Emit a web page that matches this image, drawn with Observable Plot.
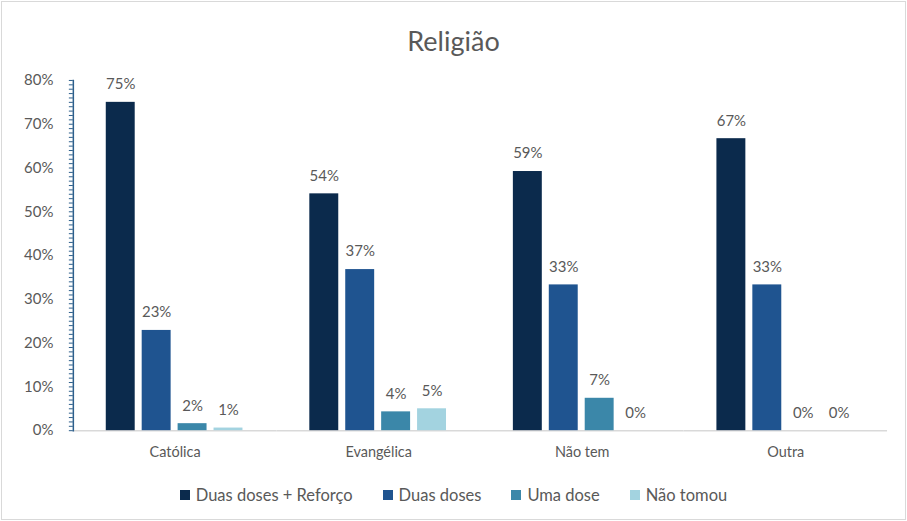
<!DOCTYPE html>
<html><head><meta charset="utf-8">
<script src="https://cdn.jsdelivr.net/npm/d3@7"></script>
<script src="https://cdn.jsdelivr.net/npm/@observablehq/plot@0.6"></script>
<style>
body{margin:0;background:#fff;font-family:Lato,"Open Sans",sans-serif;}
#wrap{position:relative;width:903px;height:517px;border:1px solid #d9d9d9;margin:1px;background:#fff;overflow:hidden;}
#title{position:absolute;top:22px;left:0;width:100%;text-align:center;font-size:27px;color:#595959;}
#chart{position:absolute;top:59px;left:-2px;}
#legend{position:absolute;top:483px;left:0;width:100%;display:flex;justify-content:center;gap:30px;font-size:16.5px;color:#595959;}
#legend span.item{display:flex;align-items:center;gap:6px;}
#legend span.sw{display:inline-block;width:10px;height:10px;}
</style></head>
<body>
<div id="wrap">
  <div id="title">Religião</div>
  <div id="chart"></div>
  <div id="legend"></div>
</div>
<script>
const categories = ["Católica", "Evangélica", "Não tem", "Outra"];
const series = ["Duas doses + Reforço", "Duas doses", "Uma dose", "Não tomou"];
const duasDosesReforco = [0.75, 0.541, 0.592, 0.667];
const duasDoses = [0.229, 0.368, 0.333, 0.333];
const umaDose = [0.016, 0.043, 0.074, 0];
const naoTomou = [0.006, 0.05, 0, 0];
const colors = ["#0b2a4c", "#1f5490", "#3b87a9", "#a3d3e0"];
const yTicks = [0, 0.1, 0.2, 0.3, 0.4, 0.5, 0.6, 0.7, 0.8];
const yTickLabels = ["0%", "10%", "20%", "30%", "40%", "50%", "60%", "70%", "80%"];

const seriesValues = [duasDosesReforco, duasDoses, umaDose, naoTomou];
const data = [];
categories.forEach((c, i) => series.forEach((s, j) => data.push({cat: c, series: s, value: seriesValues[j][i]})));
const minor = d3.range(0, 81).map(i => i / 100);
const fmt = d3.format(".0%");

const chart = Plot.plot({
  width: 907, height: 410,
  marginLeft: 72, marginRight: 18, marginTop: 19, marginBottom: 40,
  style: {fontFamily: "Lato, 'Open Sans', sans-serif", background: "transparent"},
  fx: {domain: categories, padding: 0, label: null},
  x: {domain: series, paddingInner: 0.19, paddingOuter: 0.86, axis: null},
  y: {domain: [0, 0.8]},
  color: {domain: series, range: colors},
  marks: [
    Plot.ruleY([0], {stroke: "#d9d9d9", strokeWidth: 1.5}),
    Plot.barY(data, {fx: "cat", x: "series", y: "value", fill: "series"}),
    Plot.text(data, {fx: "cat", x: "series", y: "value", text: d => fmt(d.value), dy: -18, fill: "#595959", fontSize: 15}),
    Plot.axisY(yTicks, {tickSize: 0, tickPadding: 20, tickFormat: (d) => yTickLabels[yTicks.indexOf(d)], fontSize: 15, fill: "#595959", label: null}),
    Plot.axisY(minor, {tickSize: 4, fill: "none", stroke: "#2d5f8c", label: null}),
    Plot.frame({anchor: "left", stroke: "#2d5f8c", strokeWidth: 1.5, facetAnchor: "left"}),
    Plot.axisFx({anchor: "bottom", tickSize: 0, tickPadding: 16, fontSize: 14.5, fill: "#595959", label: null})
  ]
});
document.getElementById("chart").appendChild(chart);

const legend = document.getElementById("legend");
series.forEach((s, i) => {
  const item = document.createElement("span");
  item.className = "item";
  const sw = document.createElement("span");
  sw.className = "sw";
  sw.style.background = colors[i];
  item.appendChild(sw);
  item.appendChild(document.createTextNode(s));
  legend.appendChild(item);
});
</script>
</body></html>
